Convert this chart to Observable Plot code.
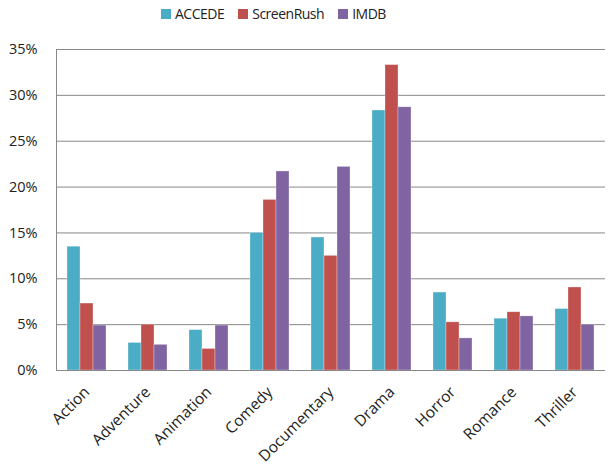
<!DOCTYPE html>
<html><head><meta charset="utf-8">
<script src="https://cdn.jsdelivr.net/npm/d3@7"></script>
<script src="https://cdn.jsdelivr.net/npm/@observablehq/plot@0.6"></script>
<style>
body{margin:0;background:#fff;font-family:"Open Sans",sans-serif;}
#legend{height:26px;display:flex;justify-content:flex-start;align-items:center;gap:14px;font-size:14px;letter-spacing:-0.5px;color:#222;padding-left:161px;padding-top:1px;box-sizing:border-box}
#legend span.sw{display:inline-block;width:10px;height:10px;margin-right:4px;vertical-align:middle;position:relative;top:-1px}
</style></head><body>
<div id="legend"></div>
<div id="chart"></div>
<script>
const categories = ["Action","Adventure","Animation","Comedy","Documentary","Drama","Horror","Romance","Thriller"];
const seriesNames = ["ACCEDE","ScreenRush","IMDB"];
const colors = ["#4BACC6","#C0504D","#8064A2"];
const accede     = [13.5, 3.0, 4.4, 15.0, 14.5, 28.35, 8.5, 5.65, 6.7];
const screenRush = [7.3, 5.0, 2.35, 18.6, 12.5, 33.3, 5.25, 6.35, 9.05];
const imdb       = [4.9, 2.8, 4.9, 21.7, 22.2, 28.7, 3.5, 5.9, 5.0];
const yTicks = [0,5,10,15,20,25,30,35];

const values = [accede, screenRush, imdb];
const data = [];
categories.forEach((c,i) => seriesNames.forEach((s,j) => data.push({category:c, series:s, value: values[j][i]})));

const legend = document.getElementById("legend");
seriesNames.forEach((s,j) => {
  const d = document.createElement("div");
  d.innerHTML = `<span class="sw" style="background:${colors[j]}"></span>${s}`;
  legend.appendChild(d);
});

const chart = Plot.plot({
  width: 609, height: 439,
  marginTop: 23, marginBottom: 95, marginLeft: 53, marginRight: 2,
  style: {fontFamily: "Open Sans, sans-serif", fontSize: "14px", color: "#222"},
  fx: {domain: categories, padding: 0, label: null},
  x: {domain: seriesNames, paddingInner: 0, paddingOuter: 0.7, axis: null},
  y: {domain: [0,35], label: null},
  color: {domain: seriesNames, range: colors},
  marks: [
    Plot.gridY(yTicks, {stroke: "#888", strokeOpacity: 1}),
    Plot.frame({anchor: "left", facet: "super", stroke: "#888"}),
    Plot.barY(data, {fx: "category", x: "series", y: "value", fill: "series", stroke: "white", strokeOpacity: 0.5, strokeWidth: 0.6}),
    Plot.ruleY([0], {stroke: "#888"}),
    Plot.axisY(yTicks, {tickSize: 0, tickPadding: 19, tickFormat: d => d + "%", label: null, fontSize: 14.5}),
    Plot.axisFx({anchor: "bottom", tickSize: 0, tickRotate: -45, tickPadding: 19, dx: 0, label: null, fontSize: 15.5, letterSpacing: -0.4})
  ]
});
document.getElementById("chart").appendChild(chart);
</script></body></html>
